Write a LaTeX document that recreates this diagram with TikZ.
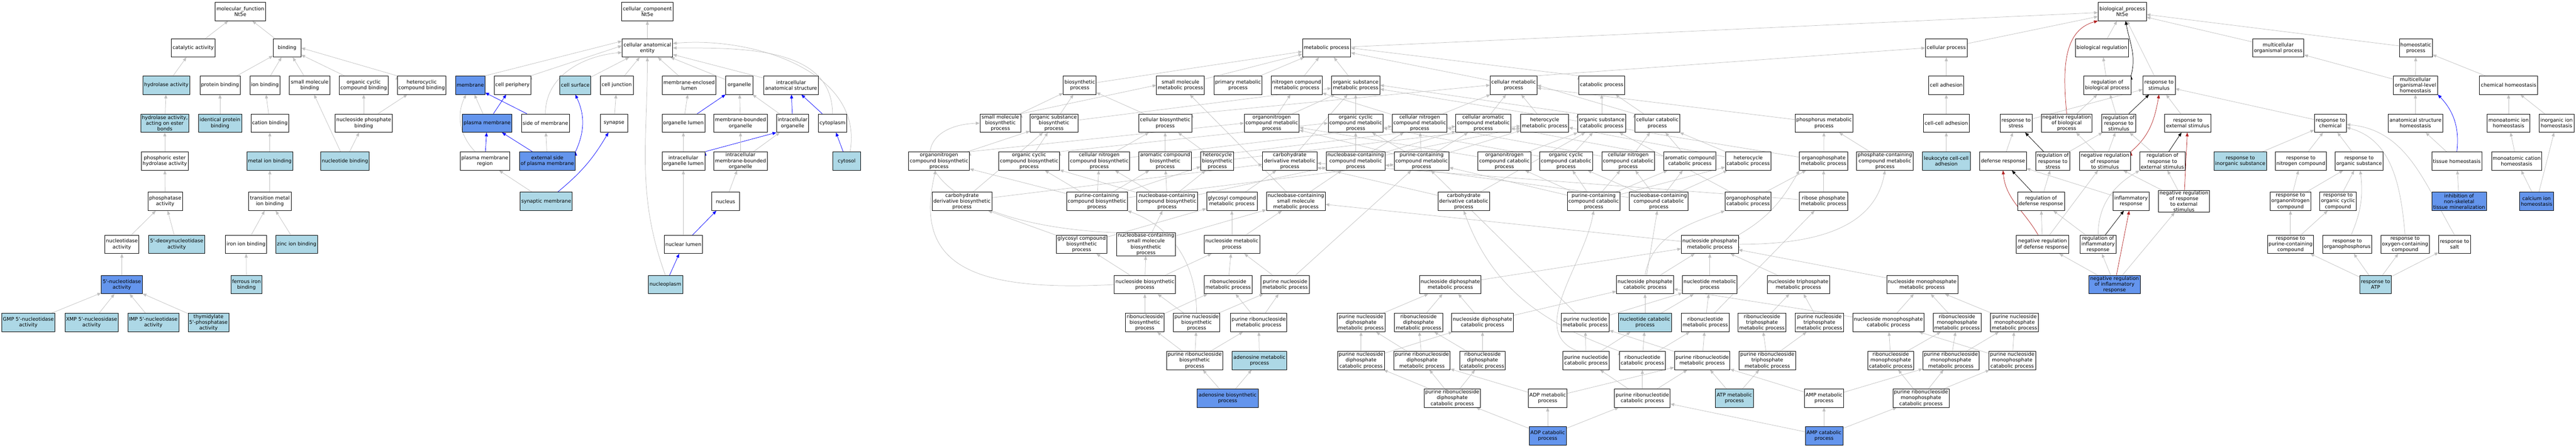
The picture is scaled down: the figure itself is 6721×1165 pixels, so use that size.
\documentclass[tikz,border=0pt]{standalone}
\usepackage{fontspec}
\setmainfont{DejaVu Sans}
\usetikzlibrary{arrows.meta,backgrounds}
\definecolor{lightblue}{RGB}{173,216,230}
\definecolor{cornflower}{RGB}{100,149,237}
\definecolor{edgegray}{RGB}{192,192,192}
\definecolor{firebrick}{RGB}{178,34,34}
\newcommand{\ntq}{\textquotesingle}
\tikzset{
  term/.style={draw=black, line width=1pt, fill=white, align=center, inner xsep=3pt, inner ysep=1pt, minimum height=48, font=\fontsize{13}{15}\selectfont},
  termlb/.style={term, fill=lightblue},
  termcb/.style={term, fill=cornflower},
  isa/.style={draw=edgegray, line width=1pt, -{Triangle[length=10pt,width=8pt,color=edgegray]}},
  partof/.style={draw=blue, line width=1pt, -{Triangle[length=10pt,width=8pt,color=blue]}},
  regulates/.style={draw=black, line width=1pt, -{Triangle[length=10pt,width=8pt,color=black]}},
  negregulates/.style={draw=firebrick, line width=1pt, -{Triangle[length=10pt,width=8pt,color=firebrick]}}
}
\begin{document}
\begin{tikzpicture}[x=1pt, y=1pt]
\useasboundingbox (0,0) rectangle (6721,-1165);

\node[term, minimum width=131] (mf) at (627,-30) {molecular\_function\\Nt5e};
\node[term, minimum width=115] (catact) at (504,-125) {catalytic activity};
\node[term, minimum width=73] (binding) at (749,-125) {binding};
\node[termlb, minimum width=123] (hydrolase) at (434,-222) {hydrolase activity};
\node[term, minimum width=105] (protbind) at (574,-222) {protein binding};
\node[term, minimum width=78] (ionbind) at (691,-222) {ion binding};
\node[term, minimum width=106] (smbind) at (808,-222) {small molecule\\binding};
\node[term, minimum width=126] (ocbind) at (949,-222) {organic cyclic\\compound binding};
\node[term, minimum width=126] (hcbind) at (1100,-222) {heterocyclic\\compound binding};
\node[termlb, minimum width=126] (esterhyd) at (430,-321) {hydrolase activity,\\acting on ester\\bonds};
\node[termlb, minimum width=113] (idprot) at (574,-321) {identical protein\\binding};
\node[term, minimum width=98] (catbind) at (704,-321) {cation binding};
\node[term, minimum width=147] (nspbind) at (949,-321) {nucleoside phosphate\\binding};
\node[term, minimum width=123] (phoshyd) at (430,-420) {phosphoric ester\\hydrolase activity};
\node[termlb, minimum width=120] (metbind) at (704,-420) {metal ion binding};
\node[termlb, minimum width=126] (ntbind) at (900,-420) {nucleotide binding};
\node[term, minimum width=89] (phosact) at (431,-525) {phosphatase\\activity};
\node[term, minimum width=111] (tmbind) at (704,-525) {transition metal\\ion binding};
\node[term, minimum width=89] (nucact) at (318,-637) {nucleotidase\\activity};
\node[termlb, minimum width=147] (dnucact) at (461,-637) {5\ntq-deoxynucleotidase\\activity};
\node[term, minimum width=107] (ironbind) at (642,-637) {iron ion binding};
\node[termlb, minimum width=108] (zincbind) at (774,-637) {zinc ion binding};
\node[termcb, minimum width=107] (fnucact) at (318,-742) {5\ntq-nucleotidase\\activity};
\node[termlb, minimum width=81] (ferrbind) at (643,-742) {ferrous iron\\binding};
\node[termlb, minimum width=139] (gmpact) at (74,-841) {GMP 5\ntq-nucleotidase\\activity};
\node[termlb, minimum width=139] (xmpact) at (239,-841) {XMP 5\ntq-nucleosidase\\activity};
\node[termlb, minimum width=133] (impact) at (400,-841) {IMP 5\ntq-nucleotidase\\activity};
\node[termlb, minimum width=107] (thymact) at (544,-841) {thymidylate\\5\ntq-phosphatase\\activity};

\node[term, minimum width=134] (cc) at (1689,-30) {cellular\_component\\Nt5e};
\node[term, minimum width=132] (cae) at (1689,-125) {cellular anatomical\\entity};
\node[termcb, minimum width=77] (membrane) at (1227,-222) {membrane};
\node[term, minimum width=94] (cellperi) at (1337,-222) {cell periphery};
\node[termlb, minimum width=80] (cellsurf) at (1501,-222) {cell surface};
\node[term, minimum width=86] (celljunc) at (1609,-222) {cell junction};
\node[term, minimum width=139] (melumen) at (1798,-222) {membrane-enclosed\\lumen};
\node[term, minimum width=72] (organelle) at (1929,-222) {organelle};
\node[term, minimum width=142] (intras) at (2064,-222) {intracellular\\anatomical structure};
\node[termcb, minimum width=129] (plasmem) at (1271,-321) {plasma membrane};
\node[term, minimum width=125] (sidemem) at (1423,-321) {side of membrane};
\node[term, minimum width=72] (synapse) at (1602,-321) {synapse};
\node[term, minimum width=111] (orglumen) at (1783,-321) {organelle lumen};
\node[term, minimum width=139] (mbo) at (1932,-321) {membrane-bounded\\organelle};
\node[term, minimum width=84] (intorg) at (2068,-321) {intracellular\\organelle};
\node[term, minimum width=75] (cytoplasm) at (2172,-321) {cytoplasm};
\node[term, minimum width=129] (pmregion) at (1265,-420) {plasma membrane\\region};
\node[termcb, minimum width=146] (extside) at (1428,-420) {external side\\of plasma membrane};
\node[term, minimum width=111] (intorglumen) at (1783,-420) {intracellular\\organelle lumen};
\node[term, minimum width=139] (imbo) at (1932,-420) {intracellular\\membrane-bounded\\organelle};
\node[termlb, minimum width=72] (cytosol) at (2209,-420) {cytosol};
\node[termlb, minimum width=136] (synmem) at (1425,-525) {synaptic membrane};
\node[term, minimum width=73] (nucleus) at (1893,-525) {nucleus};
\node[term, minimum width=100] (nuclumen) at (1783,-637) {nuclear lumen};
\node[termlb, minimum width=90] (nucplasm) at (1736,-742) {nucleoplasm};

\node[term, minimum width=126] (bp) at (5537,-30) {biological\_process\\Nt5e};

\node[term, minimum width=126] (metproc) at (3461,-125) {metabolic process};
\node[term, minimum width=109] (cellproc) at (5078,-125) {cellular process};
\node[term, minimum width=139] (bioreg) at (5484,-125) {biological regulation};
\node[term, minimum width=134] (multorg) at (5944,-125) {multicellular\\organismal process};
\node[term, minimum width=86] (homeo) at (6303,-125) {homeostatic\\process};

\node[term, minimum width=86] (biosyn) at (2817,-222) {biosynthetic\\process};
\node[term, minimum width=125] (smmet) at (3080,-222) {small molecule\\metabolic process};
\node[term, minimum width=125] (primet) at (3230,-222) {primary metabolic\\process};
\node[term, minimum width=131] (ncmet) at (3383,-222) {nitrogen compound\\metabolic process};
\node[term, minimum width=126] (osmet) at (3537,-222) {organic substance\\metabolic process};
\node[term, minimum width=122] (cellmet) at (3949,-222) {cellular metabolic\\process};
\node[term, minimum width=119] (catproc) at (4179,-222) {catabolic process};
\node[term, minimum width=91] (celladh) at (5078,-222) {cell adhesion};
\node[term, minimum width=123] (regbp) at (5498,-222) {regulation of\\biological process};
\node[term, minimum width=84] (respstim) at (5633,-222) {response to\\stimulus};
\node[term, minimum width=116] (molhomeo) at (6302,-222) {multicellular\\organismal-level\\homeostasis};
\node[term, minimum width=152] (chemhomeo) at (6545,-222) {chemical homeostasis};

\node[term, minimum width=107] (smbio) at (2610,-321) {small molecule\\biosynthetic\\process};
\node[term, minimum width=123] (osbio) at (2750,-321) {organic substance\\biosynthetic\\process};
\node[term, minimum width=139] (cellbio) at (3040,-321) {cellular biosynthetic\\process};
\node[term, minimum width=142] (onmet) at (3318,-321) {organonitrogen\\compound metabolic\\process};
\node[term, minimum width=142] (occmet) at (3537,-321) {organic cyclic\\compound metabolic\\process};
\node[term, minimum width=142] (cnmet) at (3704,-321) {cellular nitrogen\\compound metabolic\\process};
\node[term, minimum width=141] (camet) at (3870,-321) {cellular aromatic\\compound metabolic\\process};
\node[term, minimum width=125] (hcmet) at (4030,-321) {heterocycle\\metabolic process};
\node[term, minimum width=123] (oscat) at (4179,-321) {organic substance\\catabolic process};
\node[term, minimum width=118] (cellcat) at (4324,-321) {cellular catabolic\\process};
\node[term, minimum width=150] (phosmet) at (4759,-321) {phosphorus metabolic\\process};
\node[term, minimum width=120] (ccadh) at (5078,-321) {cell-cell adhesion};
\node[term, minimum width=83] (respstress) at (5260,-321) {response to\\stress};
\node[term, minimum width=133] (negregbp) at (5392,-321) {negative regulation\\of biological\\process};
\node[term, minimum width=87] (regrs) at (5528,-321) {regulation of\\response to\\stimulus};
\node[term, minimum width=121] (respext) at (5708,-321) {response to\\external stimulus};
\node[term, minimum width=83] (respchem) at (6080,-321) {response to\\chemical};
\node[term, minimum width=141] (ashomeo) at (6302,-321) {anatomical structure\\homeostasis};
\node[term, minimum width=112] (maihomeo) at (6545,-321) {monoatomic ion\\homeostasis};
\node[term, minimum width=91] (iihomeo) at (6670,-321) {inorganic ion\\homeostasis};

\node[term, minimum width=159] (onbio) at (2450,-420) {organonitrogen\\compound biosynthetic\\process};
\node[term, minimum width=158] (occbio) at (2685,-420) {organic cyclic\\compound biosynthetic\\process};
\node[term, minimum width=158] (cnbio) at (2868,-420) {cellular nitrogen\\compound biosynthetic\\process};
\node[term, minimum width=137] (acbio) at (3040,-420) {aromatic compound\\biosynthetic\\process};
\node[term, minimum width=86] (hcbio) at (3176,-420) {heterocycle\\biosynthetic\\process};
\node[term, minimum width=142] (cdmet) at (3365,-420) {carbohydrate\\derivative metabolic\\process};
\node[term, minimum width=152] (nbcmet) at (3537,-420) {nucleobase-containing\\compound metabolic\\process};
\node[term, minimum width=142] (pcmet) at (3709,-420) {purine-containing\\compound metabolic\\process};
\node[term, minimum width=137] (oncat) at (3925,-420) {organonitrogen\\compound catabolic\\process};
\node[term, minimum width=137] (occcat) at (4086,-420) {organic cyclic\\compound catabolic\\process};
\node[term, minimum width=136] (cncat) at (4248,-420) {cellular nitrogen\\compound catabolic\\process};
\node[term, minimum width=136] (accat) at (4409,-420) {aromatic compound\\catabolic process};
\node[term, minimum width=117] (hccat) at (4561,-420) {heterocycle\\catabolic process};
\node[term, minimum width=126] (opmet) at (4758,-420) {organophosphate\\metabolic process};
\node[term, minimum width=147] (phcmet) at (4918,-420) {phosphate-containing\\compound metabolic\\process};
\node[termlb, minimum width=126] (leukadh) at (5078,-420) {leukocyte cell-cell\\adhesion};
\node[term, minimum width=121] (defresp) at (5226,-420) {defense response};
\node[term, minimum width=88] (regrstress) at (5356,-420) {regulation of\\response to\\stress};
\node[term, minimum width=134] (negregrs) at (5492,-420) {negative regulation\\of response\\to stimulus};
\node[term, minimum width=119] (regrext) at (5642,-420) {regulation of\\response to\\external stimulus};
\node[termlb, minimum width=136] (respinorg) at (5845,-420) {response to\\inorganic substance};
\node[term, minimum width=131] (respnc) at (6003,-420) {response to\\nitrogen compound};
\node[term, minimum width=123] (resporg) at (6155,-420) {response to\\organic substance};
\node[term, minimum width=131] (tisshomeo) at (6410,-420) {tissue homeostasis};
\node[term, minimum width=131] (machomeo) at (6566,-420) {monoatomic cation\\homeostasis};

\node[term, minimum width=155] (cdbio) at (2510,-525) {carbohydrate\\derivative biosynthetic\\process};
\node[term, minimum width=157] (pcbio) at (2862,-525) {purine-containing\\compound biosynthetic\\process};
\node[term, minimum width=158] (nbcbio) at (3045,-525) {nucleobase-containing\\compound biosynthetic\\process};
\node[term, minimum width=132] (glymet) at (3214,-525) {glycosyl compound\\metabolic process};
\node[term, minimum width=153] (nbsmmet) at (3381,-525) {nucleobase-containing\\small molecule\\metabolic process};
\node[term, minimum width=134] (cdcat) at (3819,-525) {carbohydrate\\derivative catabolic\\process};
\node[term, minimum width=137] (pccat) at (4158,-525) {purine-containing\\compound catabolic\\process};
\node[term, minimum width=153] (nbccat) at (4328,-525) {nucleobase-containing\\compound catabolic\\process};
\node[term, minimum width=117] (opcat) at (4561,-525) {organophosphate\\catabolic process};
\node[term, minimum width=126] (rpmet) at (4758,-525) {ribose phosphate\\metabolic process};
\node[term, minimum width=122] (regdef) at (5325,-525) {regulation of\\defense response};
\node[term, minimum width=93] (inflam) at (5560,-525) {inflammatory\\response};
\node[term, minimum width=133] (negregext) at (5698,-525) {negative regulation\\of response\\to external\\stimulus};
\node[term, minimum width=105] (responc) at (5976,-525) {response to\\organonitrogen\\compound};
\node[term, minimum width=94] (respocc) at (6100,-525) {response to\\organic cyclic\\compound};
\node[termcb, minimum width=142] (inhibmin) at (6416,-525) {inhibition of\\non-skeletal\\tissue mineralization};
\node[termcb, minimum width=89] (calhomeo) at (6618,-525) {calcium ion\\homeostasis};

\node[term, minimum width=131] (glybio) at (2822,-637) {glycosyl compound\\biosynthetic\\process};
\node[term, minimum width=153] (nbsmbio) at (2990,-637) {nucleobase-containing\\small molecule\\biosynthetic\\process};
\node[term, minimum width=145] (nsmet) at (3214,-637) {nucleoside metabolic\\process};
\node[term, minimum width=147] (npmet) at (4461,-637) {nucleoside phosphate\\metabolic process};
\node[term, minimum width=138] (negregdef) at (5329,-637) {negative regulation\\of defense response};
\node[term, minimum width=94] (reginflam) at (5474,-637) {regulation of\\inflammatory\\response};
\node[term, minimum width=120] (resppc) at (5976,-637) {response to\\purine-containing\\compound};
\node[term, minimum width=126] (respop) at (6124,-637) {response to\\organophosphorus};
\node[term, minimum width=125] (respoxy) at (6275,-637) {response to\\oxygen-containing\\compound};
\node[term, minimum width=83] (respsalt) at (6404,-637) {response to\\salt};

\node[term, minimum width=159] (nsbio) at (2987,-742) {nucleoside biosynthetic\\process};
\node[term, minimum width=125] (rnsmet) at (3204,-742) {ribonucleoside\\metabolic process};
\node[term, minimum width=126] (pnsmet) at (3353,-742) {purine nucleoside\\metabolic process};
\node[term, minimum width=159] (ndpmet) at (3784,-742) {nucleoside diphosphate\\metabolic process};
\node[term, minimum width=147] (npcat) at (4292,-742) {nucleoside phosphate\\catabolic process};
\node[term, minimum width=142] (ntmet) at (4461,-742) {nucleotide metabolic\\process};
\node[term, minimum width=162] (ntpmet) at (4692,-742) {nucleoside triphosphate\\metabolic process};
\node[term, minimum width=185] (nmpmet) at (5015,-742) {nucleoside monophosphate\\metabolic process};
\node[termcb, minimum width=134] (negreginflam) at (5517,-742) {negative regulation\\of inflammatory\\response};
\node[termlb, minimum width=82] (respatp) at (6198,-742) {response to\\ATP};

\node[term, minimum width=101] (rnsbio) at (2987,-841) {ribonucleoside\\biosynthetic\\process};
\node[term, minimum width=121] (pnsbio) at (3122,-841) {purine nucleoside\\biosynthetic\\process};
\node[term, minimum width=147] (prnsmet) at (3284,-841) {purine ribonucleoside\\metabolic process};
\node[term, minimum width=125] (pndpmet) at (3551,-841) {purine nucleoside\\diphosphate\\metabolic process};
\node[term, minimum width=126] (rndpmet) at (3701,-841) {ribonucleoside\\diphosphate\\metabolic process};
\node[term, minimum width=159] (ndpcat) at (3868,-841) {nucleoside diphosphate\\catabolic process};
\node[term, minimum width=125] (pntmet) at (4136,-841) {purine nucleotide\\metabolic process};
\node[termlb, minimum width=138] (ntcat) at (4292,-841) {nucleotide catabolic\\process};
\node[term, minimum width=125] (rntmet) at (4449,-841) {ribonucleotide\\metabolic process};
\node[term, minimum width=125] (rntpmet) at (4597,-841) {ribonucleoside\\triphosphate\\metabolic process};
\node[term, minimum width=126] (pntpmet) at (4747,-841) {purine nucleoside\\triphosphate\\metabolic process};
\node[term, minimum width=185] (nmpcat) at (4927,-841) {nucleoside monophosphate\\catabolic process};
\node[term, minimum width=125] (rnmpmet) at (5106,-841) {ribonucleoside\\monophosphate\\metabolic process};
\node[term, minimum width=125] (pnmpmet) at (5256,-841) {purine nucleoside\\monophosphate\\metabolic process};

\node[term, minimum width=146] (prnsbio) at (3117,-940) {purine ribonucleoside\\biosynthetic\\process};
\node[termlb, minimum width=142] (adomet) at (3286,-940) {adenosine metabolic\\process};
\node[term, minimum width=121] (pndpcat) at (3551,-940) {purine nucleoside\\diphosphate\\catabolic process};
\node[term, minimum width=147] (prndpmet) at (3710,-940) {purine ribonucleoside\\diphosphate\\metabolic process};
\node[term, minimum width=118] (rndpcat) at (3868,-940) {ribonucleoside\\diphosphate\\catabolic process};
\node[term, minimum width=117] (pntcat) at (4138,-940) {purine nucleotide\\catabolic process};
\node[term, minimum width=118] (rntcat) at (4285,-940) {ribonucleotide\\catabolic process};
\node[term, minimum width=144] (prntmet) at (4441,-940) {purine ribonucleotide\\metabolic process};
\node[term, minimum width=146] (prntpmet) at (4611,-940) {purine ribonucleoside\\triphosphate\\metabolic process};
\node[term, minimum width=118] (rnmpcat) at (4933,-940) {ribonucleoside\\monophosphate\\catabolic process};
\node[term, minimum width=147] (prnmpmet) at (5090,-940) {purine ribonucleoside\\monophosphate\\metabolic process};
\node[term, minimum width=121] (pnmpcat) at (5250,-940) {purine nucleoside\\monophosphate\\catabolic process};

\node[termcb, minimum width=159] (adobio) at (3203,-1038) {adenosine biosynthetic\\process};
\node[term, minimum width=147] (prndpcat) at (3789,-1038) {purine ribonucleoside\\diphosphate\\catabolic process};
\node[term, minimum width=101] (adpmet) at (4038,-1038) {ADP metabolic\\process};
\node[term, minimum width=144] (prntcat) at (4285,-1038) {purine ribonucleotide\\catabolic process};
\node[termlb, minimum width=99] (atpmet) at (4525,-1038) {ATP metabolic\\process};
\node[term, minimum width=102] (ampmet) at (4759,-1038) {AMP metabolic\\process};
\node[term, minimum width=147] (prnmpcat) at (5012,-1038) {purine ribonucleoside\\monophosphate\\catabolic process};

\node[termcb, minimum width=97] (adpcat) at (4038,-1136) {ADP catabolic\\process};
\node[termcb, minimum width=98] (ampcat) at (4759,-1136) {AMP catabolic\\process};

\begin{pgfonlayer}{background}
\path[isa] (catact) edge (mf) (binding) edge (mf);
\path[isa] (hydrolase) edge (catact);
\path[isa] (protbind) edge (binding) (ionbind) edge (binding) (smbind) edge (binding);
\path[isa] (ocbind) edge (binding) (hcbind.north west) edge (binding.east);
\path[isa] (esterhyd) edge (hydrolase);
\path[isa] (idprot) edge (protbind);
\path[isa] (catbind) edge (ionbind);
\path[isa] (nspbind) edge (ocbind) edge (hcbind);
\path[isa] (phoshyd) edge (esterhyd);
\path[isa] (metbind) edge (catbind);
\path[isa] (ntbind) edge (nspbind) edge (smbind);
\path[isa] (phosact) edge (phoshyd);
\path[isa] (tmbind) edge (metbind);
\path[isa] (nucact) edge (phosact) (dnucact) edge (phosact);
\path[isa] (ironbind) edge (tmbind) (zincbind) edge (tmbind);
\path[isa] (fnucact) edge (nucact);
\path[isa] (ferrbind) edge (ironbind);
\path[isa] (gmpact) edge (fnucact) (xmpact) edge (fnucact) (impact) edge (fnucact) (thymact) edge (fnucact);

\path[isa] (cae) edge (cc);
\path[isa] (membrane.north east) edge (cae.165) (cellperi.north east) edge (cae.175);
\path[isa] (cellsurf) edge (cae) (celljunc) edge (cae);
\path[isa] (melumen) edge (cae) (organelle) edge (cae) (intras) edge (cae);
\path[isa] (sidemem.north) edge[out=90,in=185] (cae.190);
\path[isa] (cytoplasm.north) edge[out=90,in=0] (cae.east);
\path[isa] (cytosol.70) edge[out=80,in=5] (cae.10);
\path[isa] (nucplasm.north) edge[out=110,in=-90] (cae.south);
\path[isa] (plasmem) edge (membrane);
\path[partof] (plasmem) edge (cellperi);
\path[partof] (sidemem) edge (membrane);
\path[isa] (synapse) edge (celljunc);
\path[isa] (orglumen) edge (melumen);
\path[partof] (orglumen) edge (organelle);
\path[isa] (mbo) edge (organelle) (intorg) edge (organelle);
\path[partof] (intorg) edge (intras) (cytoplasm) edge (intras);
\path[isa] (pmregion) edge[bend left=35] (membrane);
\path[partof] (pmregion) edge (plasmem) (extside) edge (plasmem);
\path[isa] (extside) edge (sidemem);
\path[partof] (extside.north east) edge[bend right=25] (cellsurf.south);
\path[isa] (intorglumen) edge (orglumen);
\path[partof] (intorglumen.north east) edge (intorg.south west);
\path[isa] (imbo) edge (mbo) (imbo) edge (intorg);
\path[partof] (cytosol) edge (cytoplasm);
\path[isa] (synmem) edge (pmregion);
\path[partof] (synmem) edge[bend right=10] (synapse);
\path[isa] (nucleus) edge (imbo);
\path[isa] (nuclumen) edge (intorglumen);
\path[partof] (nuclumen) edge (nucleus) (nucplasm) edge (nuclumen);

\path[isa] (metproc) edge (bp) (cellproc) edge (bp) (bioreg) edge (bp);
\path[isa] (multorg) edge (bp) (homeo) edge (bp) (respstim) edge (bp);
\path[isa] (regbp) edge (bioreg);
\path[regulates] (regbp.north east) edge[out=75,in=-80] (bp.-70);
\path[isa] (negregbp) edge (regbp);
\path[negregulates] (negregbp.north) edge[out=95,in=195] (bp.south west);
\path[isa] (biosyn) edge (metproc) (smmet) edge (metproc) (primet) edge (metproc);
\path[isa] (ncmet) edge (metproc) (osmet) edge (metproc) (cellmet) edge (metproc);
\path[isa] (cellmet.north east) edge (cellproc.west) (catproc.north west) edge (metproc.east);
\path[isa] (celladh) edge (cellproc) (ccadh) edge (celladh) (leukadh) edge (ccadh);
\path[isa] (molhomeo) edge (multorg) (molhomeo) edge (homeo) (chemhomeo) edge (homeo);
\path[isa] (ashomeo) edge (molhomeo) (tisshomeo) edge (ashomeo) (inhibmin) edge (tisshomeo);
\path[partof] (tisshomeo.north) edge[bend right=25] (molhomeo.south east);
\path[isa] (maihomeo) edge (chemhomeo) (iihomeo) edge (chemhomeo);
\path[isa] (machomeo) edge (maihomeo) (calhomeo) edge (machomeo) (calhomeo) edge (iihomeo);
\path[isa] (respstress) edge (respstim) (respext) edge (respstim) (respchem) edge (respstim);
\path[isa] (regrs) edge (regbp);
\path[regulates] (regrs) edge (respstim);
\path[isa] (negregrs) edge (regrs) (negregrs) edge (negregbp);
\path[negregulates] (negregrs.north east) edge[out=40,in=-100] (respstim.south);
\path[isa] (regrstress) edge (regrs);
\path[regulates] (regrstress) edge (respstress);
\path[isa] (defresp) edge (respstress);
\path[isa] (regrext) edge (regrs);
\path[regulates] (regrext) edge (respext);
\path[isa] (regdef) edge (regrstress);
\path[regulates] (regdef) edge (defresp);
\path[isa] (inflam) edge (defresp);
\path[isa] (negregext) edge (regrext) (negregext) edge (negregrs);
\path[negregulates] (negregext) edge (respext);
\path[isa] (negregdef) edge (regdef) (negregdef) edge (negregrs);
\path[negregulates] (negregdef.115) edge[out=120,in=-85] (defresp.south);
\path[isa] (reginflam) edge (regdef);
\path[isa] (reginflam.north) edge[out=90,in=-150] (regrext.south west);
\path[regulates] (reginflam) edge (inflam);
\path[isa] (negreginflam) edge (negregdef) (negreginflam) edge (reginflam) (negreginflam) edge (negregext);
\path[negregulates] (negreginflam) edge (inflam);
\path[isa] (respinorg) edge (respchem) (respnc) edge (respchem) (resporg) edge (respchem);
\path[isa] (responc) edge (respnc) (responc) edge (resporg) (respocc) edge (resporg);
\path[isa] (resppc) edge (responc) (resppc) edge (respocc);
\path[isa] (respop) edge[bend right=15] (resporg);
\path[isa] (respoxy.north) edge[out=95,in=-15] (respchem.-15);
\path[isa] (respsalt.north) edge[out=120,in=-5] (respchem.-5);
\path[isa] (respatp) edge (resppc) (respatp) edge (respop) (respatp) edge (respoxy) (respatp) edge (respsalt);

\path[isa] (smbio.north east) edge (smmet.west) (smbio) edge (biosyn);
\path[isa] (osbio) edge (biosyn) (osbio) edge (osmet);
\path[isa] (cellbio) edge (biosyn) (cellbio.north east) edge (cellmet.west);
\path[isa] (onmet) edge (ncmet) (onmet) edge (osmet) (occmet) edge (osmet);
\path[isa] (cnmet) edge (ncmet) (cnmet) edge (cellmet) (camet) edge (cellmet) (hcmet) edge (cellmet);
\path[isa] (oscat.north west) edge (osmet.east) (oscat) edge (catproc);
\path[isa] (cellcat) edge (catproc) (cellcat.north west) edge (cellmet.east);
\path[isa] (phosmet) edge (cellmet);
\path[isa] (onbio.north east) edge (onmet.west) (onbio) edge (osbio);
\path[isa] (occbio.north east) edge (occmet.west) (occbio) edge (osbio);
\path[isa] (cnbio) edge (cellbio) (cnbio) edge (cnmet);
\path[isa] (acbio) edge (cellbio) (acbio) edge (camet);
\path[isa] (hcbio) edge (cellbio) (hcbio) edge (hcmet);
\path[isa] (cdmet) edge (osmet);
\path[isa] (nbcmet) edge (occmet) (nbcmet) edge (cnmet) (nbcmet) edge (camet) (nbcmet) edge (hcmet);
\path[isa] (pcmet) edge (onmet) (pcmet) edge (occmet) (pcmet) edge (cnmet) (pcmet) edge (camet) (pcmet) edge (hcmet);
\path[isa] (oncat) edge (onmet) (oncat) edge (oscat);
\path[isa] (occcat) edge (occmet) (occcat) edge (oscat);
\path[isa] (cncat) edge (cellcat) (cncat) edge (cnmet);
\path[isa] (accat) edge (cellcat) (accat) edge (camet);
\path[isa] (hccat) edge (cellcat) (hccat) edge (hcmet);
\path[isa] (opmet) edge (phosmet) (opmet) edge (osmet);
\path[isa] (phcmet) edge (phosmet);
\path[isa] (cdbio) edge (osbio) (cdbio) edge (cdmet);
\path[isa] (pcbio) edge (onbio) (pcbio) edge (occbio) (pcbio) edge (cnbio) (pcbio) edge (acbio) (pcbio) edge (hcbio) (pcbio) edge (pcmet);
\path[isa] (nbcbio) edge (occbio) (nbcbio) edge (cnbio) (nbcbio) edge (acbio) (nbcbio) edge (hcbio) (nbcbio) edge (nbcmet);
\path[isa] (glymet) edge (cdmet);
\path[isa] (nbsmmet) edge (smmet) (nbsmmet) edge (nbcmet);
\path[isa] (cdcat) edge (cdmet) (cdcat) edge (oscat);
\path[isa] (pccat) edge (oncat) (pccat) edge (occcat) (pccat) edge (cncat) (pccat) edge (accat) (pccat) edge (hccat) (pccat) edge (pcmet);
\path[isa] (nbccat) edge (occcat) (nbccat) edge (cncat) (nbccat) edge (accat) (nbccat) edge (hccat) (nbccat) edge (nbcmet);
\path[isa] (opcat) edge (opmet) (opcat) edge (oscat);
\path[isa] (rpmet) edge (opmet) (rpmet) edge (cdmet);
\path[isa] (glybio) edge (cdbio) (glybio) edge (glymet);
\path[isa] (nbsmbio) edge (nbcbio) (nbsmbio) edge (nbsmmet);
\draw[isa] (nbsmbio.north west) .. controls (2380,-585) and (2330,-330) .. (smbio.west);
\path[isa] (nsmet) edge (glymet) (nsmet) edge (nbsmmet);
\path[isa] (npmet) edge (nbsmmet);
\path[isa] (npmet.north east) edge[out=30,in=-120] (opmet.south west);
\path[isa] (npmet.east) edge[out=0,in=-100] (phcmet.south);
\path[isa] (nsbio) edge (glybio) (nsbio) edge (nbsmbio) (nsbio) edge (nsmet);
\draw[isa] (nsbio.west) .. controls (2550,-760) and (2380,-700) .. (onbio.250);
\path[isa] (rnsmet) edge (nsmet) (pnsmet) edge (nsmet) (pnsmet) edge (pcmet);
\path[isa] (ndpmet) edge (npmet) (ntmet) edge (npmet) (ntpmet) edge (npmet) (nmpmet) edge (npmet);
\path[isa] (npcat) edge (npmet) (npcat) edge (nbccat);
\path[isa] (npcat.north) edge[out=80,in=-160] (opcat.south west);
\path[isa] (rnsbio) edge (nsbio) (rnsbio) edge (rnsmet);
\path[isa] (pnsbio) edge (nsbio) (pnsbio) edge (pnsmet);
\path[isa] (pnsbio.north) edge[out=90,in=-20] (pcbio.south east);
\path[isa] (prnsmet) edge (rnsmet) (prnsmet) edge (pnsmet);
\path[isa] (pndpmet) edge (ndpmet) (rndpmet) edge (ndpmet);
\path[isa] (ndpcat) edge (ndpmet) (ndpcat) edge (npcat);
\path[isa] (pntmet) edge (ntmet) (pntmet) edge (pcmet);
\path[isa] (ntcat) edge (npcat) (ntcat) edge (ntmet);
\path[isa] (rntmet) edge (ntmet) (rntmet) edge (rpmet);
\path[isa] (rntpmet) edge (ntpmet) (pntpmet) edge (ntpmet);
\path[isa] (nmpcat) edge (nmpmet) (nmpcat) edge (npcat);
\path[isa] (rnmpmet) edge (nmpmet) (pnmpmet) edge (nmpmet);
\path[isa] (prnsbio) edge (rnsbio) (prnsbio) edge (pnsbio) (prnsbio) edge (prnsmet);
\path[isa] (adomet) edge (prnsmet);
\path[isa] (pndpcat) edge (pndpmet) (pndpcat) edge (ndpcat);
\path[isa] (prndpmet) edge (pndpmet) (prndpmet) edge (rndpmet);
\path[isa] (rndpcat) edge (ndpcat) (rndpcat) edge (rndpmet);
\path[isa] (pntcat) edge (pntmet) (pntcat) edge (ntcat);
\path[isa] (pntcat.130) edge[out=160,in=-100] (pccat.south);
\path[isa] (rntcat) edge (ntcat) (rntcat) edge (rntmet);
\path[isa] (rntcat.north west) edge[out=160,in=-70] (cdcat.south);
\path[isa] (prntmet) edge (pntmet) (prntmet) edge (rntmet);
\path[isa] (prntpmet) edge (rntpmet) (prntpmet) edge (pntpmet);
\path[isa] (rnmpcat) edge (nmpcat) (rnmpcat) edge (rnmpmet);
\path[isa] (prnmpmet) edge (rnmpmet) (prnmpmet) edge (pnmpmet);
\path[isa] (pnmpcat) edge (pnmpmet) (pnmpcat) edge (nmpcat);
\path[isa] (adobio) edge (prnsbio) (adobio) edge (adomet);
\path[isa] (prndpcat) edge (pndpcat) (prndpcat) edge (prndpmet) (prndpcat) edge (rndpcat);
\path[isa] (adpmet) edge (prntmet) (adpmet) edge (prndpmet);
\path[isa] (prntcat) edge (pntcat) (prntcat) edge (rntcat) (prntcat) edge (prntmet);
\path[isa] (atpmet) edge (prntmet) (atpmet) edge (prntpmet);
\path[isa] (ampmet) edge (prntmet) (ampmet) edge (prnmpmet);
\path[isa] (prnmpcat) edge (rnmpcat) (prnmpcat) edge (prnmpmet) (prnmpcat) edge (pnmpcat);
\path[isa] (adpcat) edge (adpmet) (adpcat) edge (prntcat) (adpcat) edge (prndpcat);
\path[isa] (ampcat) edge (ampmet) (ampcat) edge (prntcat) (ampcat) edge (prnmpcat);
\end{pgfonlayer}
\end{tikzpicture}
\end{document}
